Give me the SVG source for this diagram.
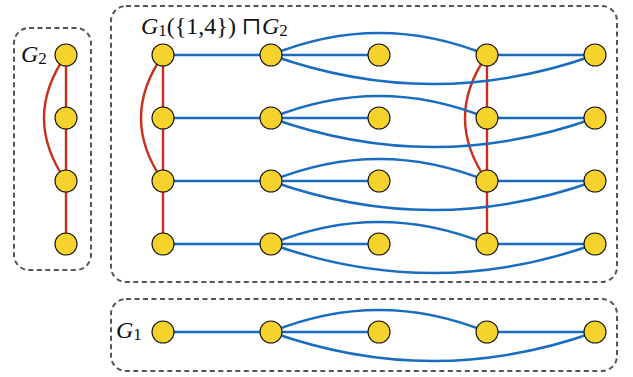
<svg xmlns="http://www.w3.org/2000/svg" width="633" height="377" viewBox="0 0 633 377">
<style>
.box{fill:none;stroke:#555;stroke-width:2;stroke-dasharray:5 3.5}
.b{fill:none;stroke:#1a6cc0;stroke-width:2.4}
.r{fill:none;stroke:#c8301a;stroke-width:2.4}
.n{fill:#f6d22c;stroke:#111;stroke-width:1.1}
.lbl{font-family:"Liberation Serif","DejaVu Serif",serif;font-size:24px;fill:#111}
.sub{font-size:17px}
</style>
<defs>
<circle id="nd" r="11" class="n"/>
</defs>
<g id="boxes">
<rect id="box-g2" class="box" x="14" y="28" width="77" height="242" rx="15"/>
<rect id="box-prod" class="box" x="111" y="6" width="506" height="276" rx="15"/>
<rect id="box-g1" class="box" x="111" y="299" width="506" height="72" rx="15"/>
</g>
<g id="labels">
<text class="lbl" x="21" y="62"><tspan font-style="italic">G</tspan><tspan class="sub" dy="2">2</tspan></text>
<text class="lbl" x="141" y="34"><tspan font-style="italic">G</tspan><tspan class="sub" dy="2">1</tspan><tspan dy="-2">({1,4}) ⊓</tspan><tspan font-style="italic">G</tspan><tspan class="sub" dy="2">2</tspan></text>
<text class="lbl" x="116" y="338"><tspan font-style="italic">G</tspan><tspan class="sub" dy="2">1</tspan></text>
</g>
<g id="connectors">
<!-- G2 -->
<path class="r" d="M66 55V244M66 55Q22 118 66 181"/>
<!-- product red -->
<path class="r" d="M163 55V244M163 55Q119 118 163 181"/>
<path class="r" d="M487 55V244M487 55Q443 118 487 181"/>
<!-- product blue rows -->
<path class="b" d="M163 55H379M487 55H595M271 55Q379 11 487 55M271 55Q433 113 595 55"/>
<path class="b" d="M163 118H379M487 118H595M271 118Q379 74 487 118M271 118Q433 176 595 118"/>
<path class="b" d="M163 181H379M487 181H595M271 181Q379 137 487 181M271 181Q433 239 595 181"/>
<path class="b" d="M163 244H379M487 244H595M271 244Q379 200 487 244M271 244Q433 302 595 244"/>
<!-- G1 -->
<path class="b" d="M163 332H379M487 332H595M271 332Q379 288 487 332M271 332Q433 390 595 332"/>
</g>
<g id="g2-nodes">
<use id="g2-1" href="#nd" x="66" y="55"/>
<use id="g2-2" href="#nd" x="66" y="118"/>
<use id="g2-3" href="#nd" x="66" y="181"/>
<use id="g2-4" href="#nd" x="66" y="244"/>
</g>
<g id="prod-nodes">
<use id="p-1-1" href="#nd" x="163" y="55"/><use id="p-2-1" href="#nd" x="271" y="55"/><use id="p-3-1" href="#nd" x="379" y="55"/><use id="p-4-1" href="#nd" x="487" y="55"/><use id="p-5-1" href="#nd" x="595" y="55"/>
<use id="p-1-2" href="#nd" x="163" y="118"/><use id="p-2-2" href="#nd" x="271" y="118"/><use id="p-3-2" href="#nd" x="379" y="118"/><use id="p-4-2" href="#nd" x="487" y="118"/><use id="p-5-2" href="#nd" x="595" y="118"/>
<use id="p-1-3" href="#nd" x="163" y="181"/><use id="p-2-3" href="#nd" x="271" y="181"/><use id="p-3-3" href="#nd" x="379" y="181"/><use id="p-4-3" href="#nd" x="487" y="181"/><use id="p-5-3" href="#nd" x="595" y="181"/>
<use id="p-1-4" href="#nd" x="163" y="244"/><use id="p-2-4" href="#nd" x="271" y="244"/><use id="p-3-4" href="#nd" x="379" y="244"/><use id="p-4-4" href="#nd" x="487" y="244"/><use id="p-5-4" href="#nd" x="595" y="244"/>
</g>
<g id="g1-nodes">
<use id="g1-1" href="#nd" x="163" y="332"/>
<use id="g1-2" href="#nd" x="271" y="332"/>
<use id="g1-3" href="#nd" x="379" y="332"/>
<use id="g1-4" href="#nd" x="487" y="332"/>
<use id="g1-5" href="#nd" x="595" y="332"/>
</g>
</svg>
